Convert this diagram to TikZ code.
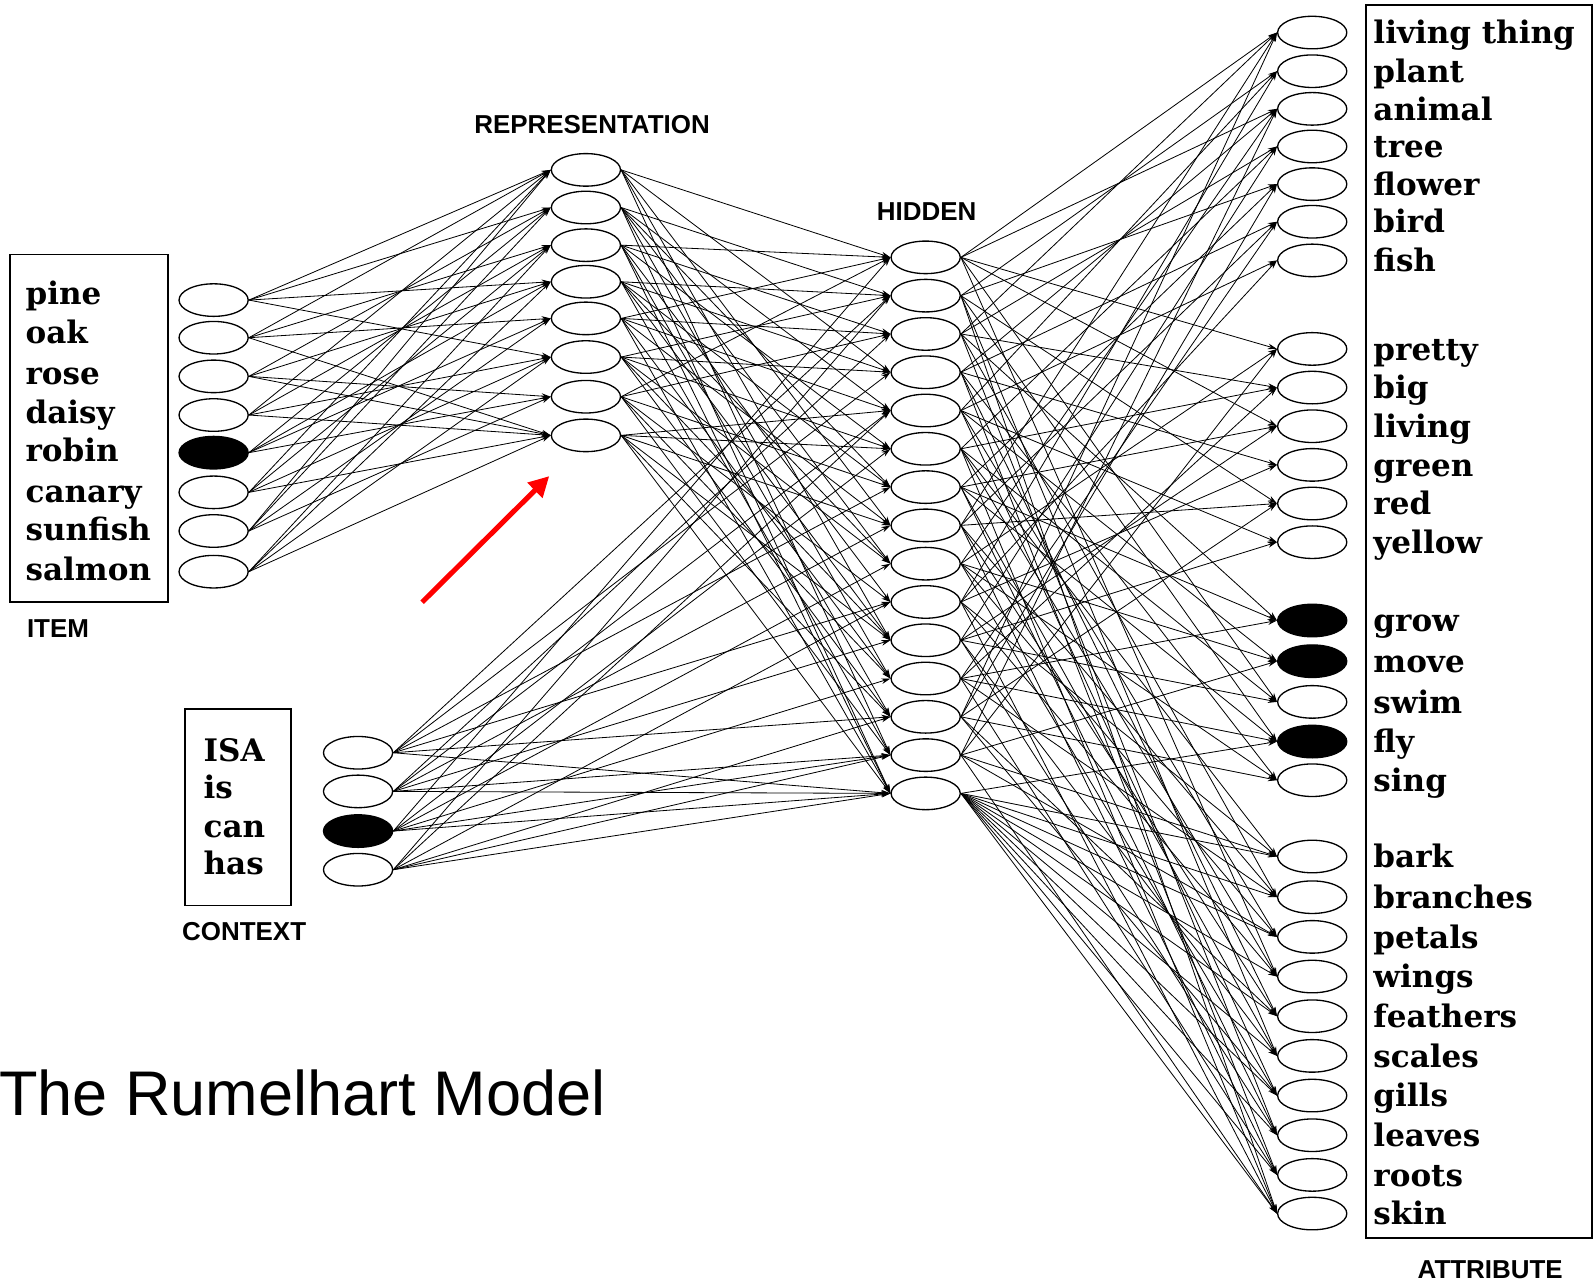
\documentclass[tikz,border=0pt]{standalone}
\usepackage{fontspec}
\setmainfont{DejaVu Serif}
\setsansfont{Liberation Sans}
\usetikzlibrary{shapes.geometric,arrows.meta}
\begin{document}
\begin{tikzpicture}[x=1pt,y=-1pt,
  unit/.style={ellipse,draw,line width=1.3pt,minimum width=68pt,minimum height=32pt,inner sep=0pt},
  on/.style={fill=black},
  lbl/.style={font=\fontsize{30.5}{30.5}\selectfont\bfseries,anchor=base west,inner sep=0pt},
  layer/.style={font=\sffamily\bfseries\fontsize{25.5}{25.5}\selectfont,inner sep=0pt},
  link/.style={line width=0.8pt,-{Stealth[length=9pt,width=5.5pt]}},
  frame/.style={draw,line width=1.5pt}]
\useasboundingbox (0,0) rectangle (1568,1261);

% ---------- item layer ----------
\draw[frame] (10,250) rectangle (165,592);
\foreach \y/\s [count=\i] in {295/,332/,370/,408/,445/on,484/,522/,562/}
  \node[unit,\s] (i\i) at (210,\y) {};
\foreach \t/\y in {pine/299,oak/338,rose/378,daisy/416,robin/454,canary/494,sunfish/531,salmon/571}
  \node[lbl] (l-\t) at (25,\y) {\t};
\node[layer] (itemlab) at (57,618) {ITEM};

% ---------- context layer ----------
\draw[frame] (182,697) rectangle (286,890);
\foreach \y/\s [count=\i] in {740/,778/,817/on,855/}
  \node[unit,\s] (c\i) at (352,\y) {};
\foreach \t/\y in {ISA/749,is/785,can/823,has/860}
  \node[lbl] (l-\t) at (200,\y) {\t};
\node[layer] (ctxlab) at (240,916) {CONTEXT};

% ---------- representation layer ----------
\foreach \y [count=\i] in {167,204,241,277,313,351,390,428}
  \node[unit] (r\i) at (576,\y) {};
\node[layer] (replab) at (582,122) {REPRESENTATION};

% ---------- hidden layer ----------
\foreach \i in {1,...,15}
  \node[unit] (h\i) at (910,{253+37.64*(\i-1)}) {};
\node[layer] (hidlab) at (911,208) {HIDDEN};

% ---------- attribute layer ----------
\draw[frame] (1343,5) rectangle (1565,1217);
\foreach \y/\t/\s [count=\i] in {
  32/living thing/,70/plant/,107/animal/,144/tree/,181/flower/,218/bird/,256/fish/,
  343/pretty/,381/big/,419/living/,457/green/,495/red/,533/yellow/,
  610/grow/on,650/move/on,690/swim/,729/fly/on,767/sing/,
  842/bark/,882/branches/,921/petals/,960/wings/,999/feathers/,1038/scales/,
  1077/gills/,1116/leaves/,1155/roots/,1193/skin/}
{
  \node[unit,\s] (a\i) at (1290,\y) {};
  \node[lbl] (t\i) at (1350,\y+11) {\t};
}
\node[layer] (attlab) at (1465,1248) {ATTRIBUTE};

% ---------- connections ----------
\foreach \a/\bs in {1/{1,2,4,6},2/{1,3,5,8},3/{2,4,7,8},4/{1,3,6,8},
                    5/{2,4,5,7},6/{1,3,6,8},7/{1,2,5,7},8/{3,4,6,8}}
  \foreach \b in \bs \draw[link] (i\a.east) -- (r\b.west);

\foreach \a/\bs in {1/{2,4,7,10,13,15},2/{3,5,8,11,14,15},
                    3/{1,6,9,12,14,15},4/{2,5,10,13,14,15}}
  \foreach \b in \bs \draw[link] (c\a.east) -- (h\b.west);

\foreach \a/\bs in {1/{1,4,8,11,14},2/{2,5,7,9,12,15},3/{1,3,6,10,13,15},
                    4/{2,4,7,9,11,14},5/{1,3,5,8,12,15},6/{2,4,6,9,11,13},
                    7/{1,3,7,10,12,14},8/{5,6,8,11,13,15}}
  \foreach \b in \bs \draw[link] (r\a.east) -- (h\b.west);

\foreach \a/\bs in {1/{1,3,8,10,16,22},2/{2,5,12,17,24,28},3/{1,4,9,14,20,26},
                    4/{3,6,11,18,23,27},5/{2,7,13,15,21,25},6/{4,9,16,19,22,28},
                    7/{5,10,14,17,24,26},8/{1,6,12,20,23,27},9/{3,8,15,18,21,25},
                    10/{2,7,11,19,22,28},11/{4,10,13,16,24,26},12/{6,9,14,17,20,27},
                    13/{1,5,12,18,23,25},14/{3,8,15,19,21,28},
                    15/{17,19,20,21,22,23,24,25,26,27,28}}
  \foreach \b in \bs \draw[link] (h\a.east) -- (a\b.west);

% ---------- pointer and title ----------
\coordinate (ptail) at (415,592);
\coordinate (phead) at (540,468);
\draw[red,line width=5pt,-{Triangle[length=20pt,width=20pt]}] (ptail) -- (phead);
\node[font=\sffamily\fontsize{62}{62}\selectfont,anchor=base west,inner sep=0pt] (title) at (-1,1097) {The Rumelhart Model};
\end{tikzpicture}
\end{document}
